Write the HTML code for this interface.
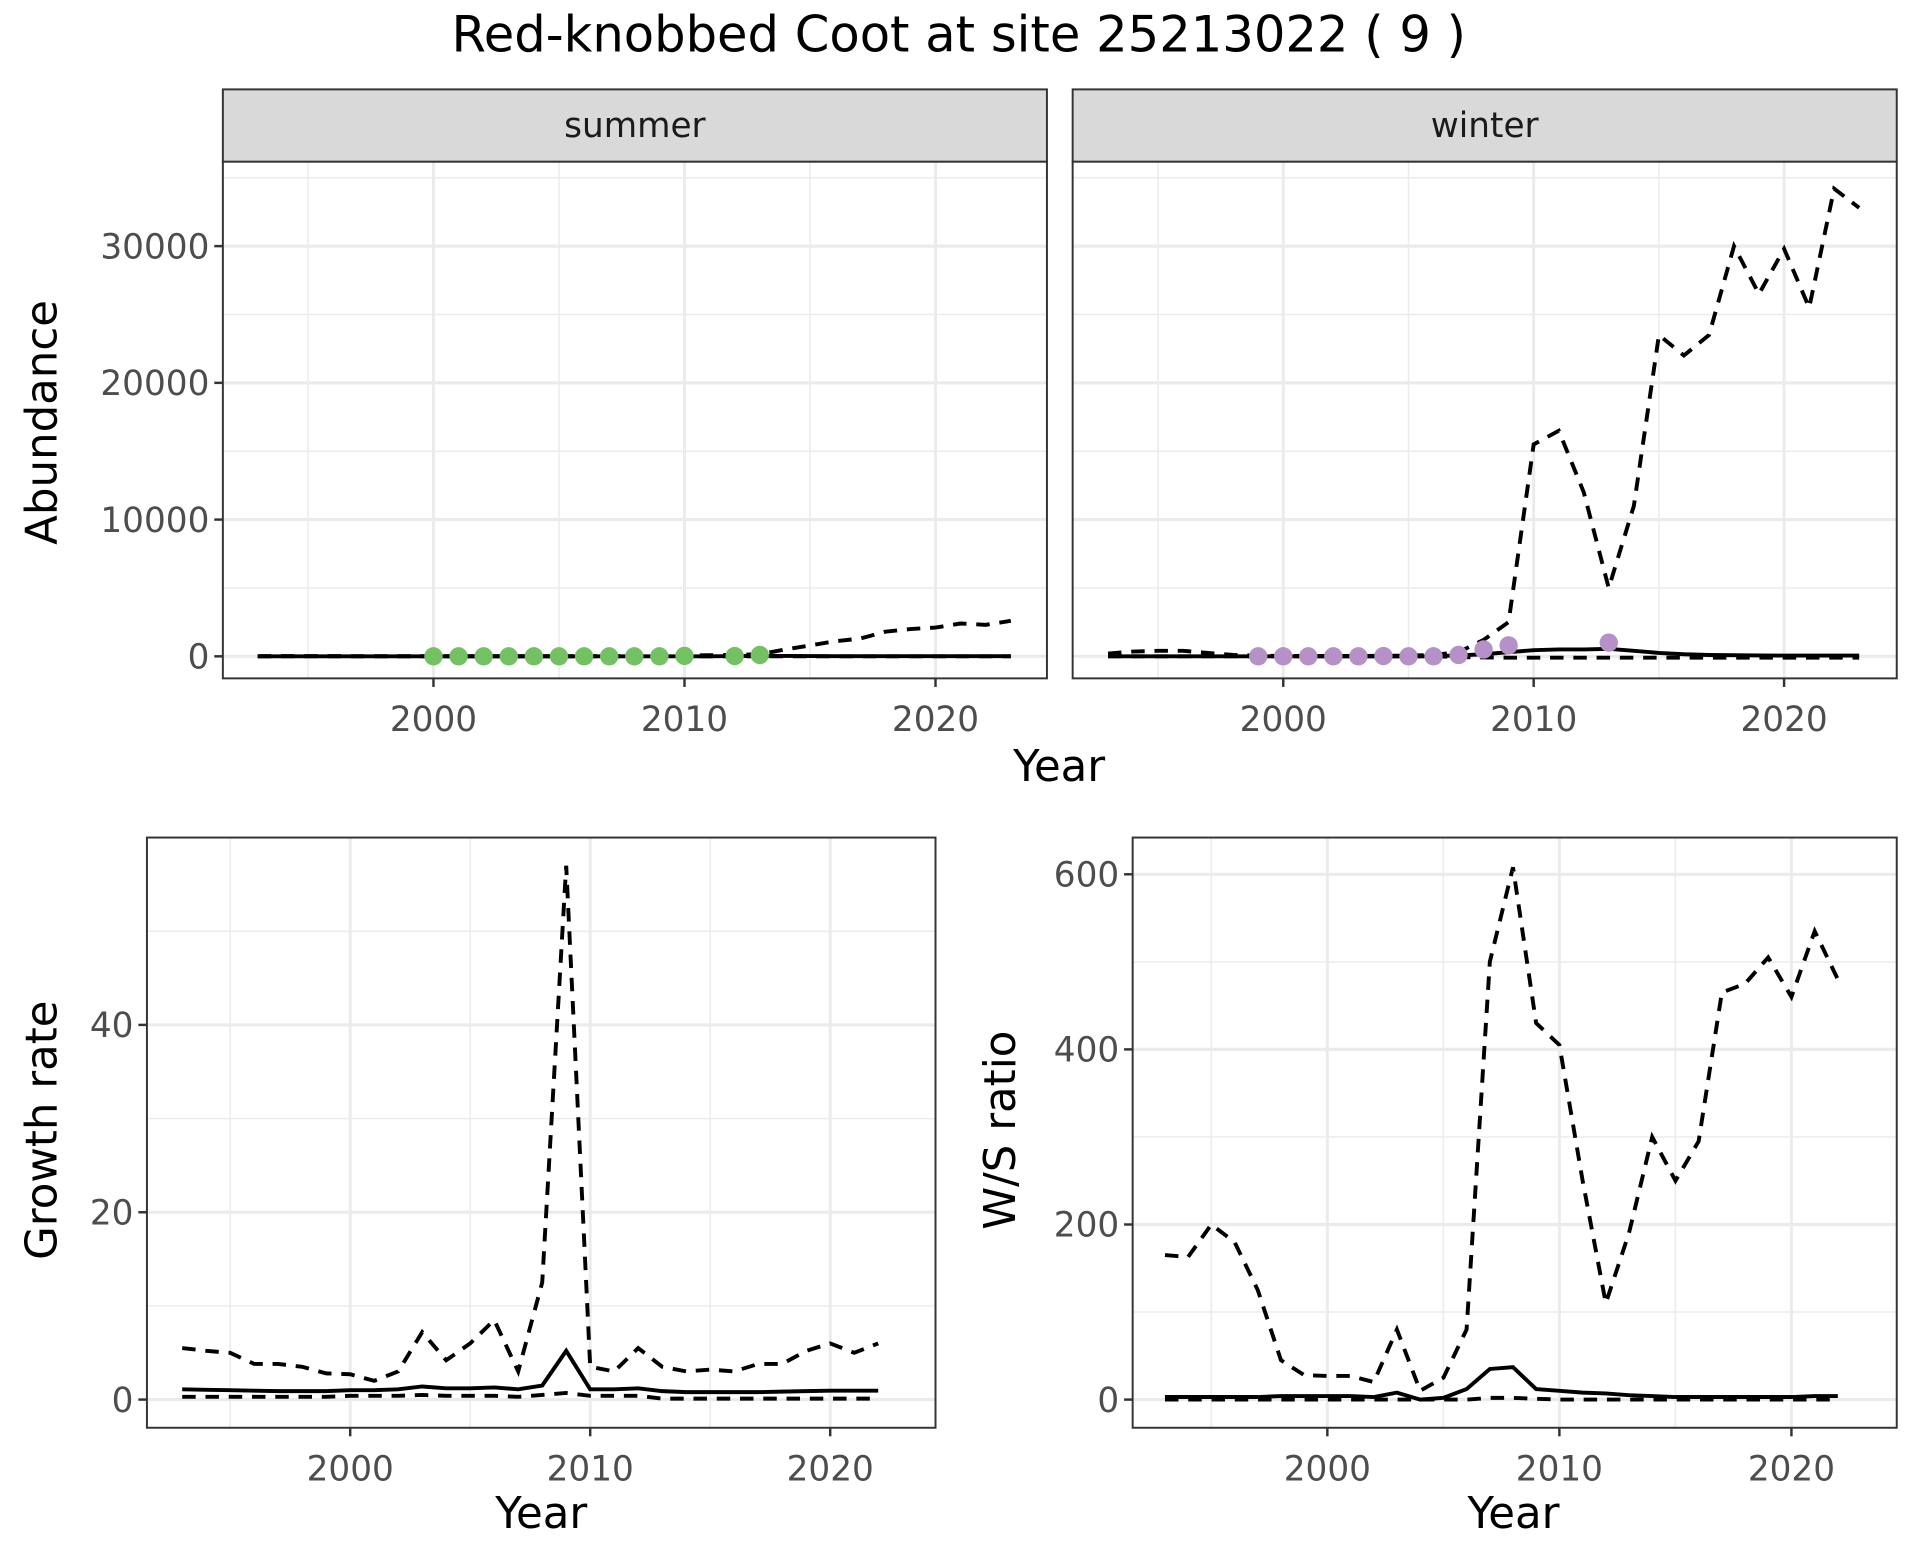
<!DOCTYPE html>
<html><head><meta charset="utf-8"><style>
html,body{margin:0;padding:0;background:#fff}
svg{display:block}
text{font-family:"DejaVu Sans","Liberation Sans",sans-serif}
</style></head><body>
<svg id="chart" width="1920" height="1560" viewBox="0 0 1568 1274" xmlns="http://www.w3.org/2000/svg">
<rect width="1568" height="1274" fill="#fff"/>
<text x="783" y="42" font-size="40.5" text-anchor="middle" fill="#000">Red-knobbed Coot at site 25213022 ( 9 )</text>
</svg>
<script>
// ---- data ----
const yearsA = [1993,1994,1995,1996,1997,1998,1999,2000,2001,2002,2003,2004,2005,2006,2007,2008,2009,2010,2011,2012,2013,2014,2015,2016,2017,2018,2019,2020,2021,2022,2023];
const summerMid = [0,0,0,0,0,0,0,0,0,0,0,0,0,0,0,0,0,0,0,20,30,30,20,10,10,5,5,5,5,5,5];
const summerUpper = [10,20,20,20,10,10,10,10,10,10,10,10,10,10,10,20,30,60,80,100,150,500,800,1100,1300,1800,2000,2100,2400,2300,2600];
const summerLower = [0,0,0,0,0,0,0,0,0,0,0,0,0,0,0,0,0,0,0,0,0,0,0,0,0,0,0,0,0,0,0];
const summerObsYears = [2000,2001,2002,2003,2004,2005,2006,2007,2008,2009,2010,2012,2013];
const summerObs = [0,0,0,0,0,0,0,0,0,0,30,20,100];
const winterMid = [0,0,0,0,0,0,0,0,0,0,0,0,0,10,60,150,300,450,500,500,550,400,250,150,100,80,60,50,50,50,50];
const winterUpper = [200,350,400,400,250,100,50,30,30,30,30,40,50,100,300,1200,2500,15500,16500,12000,5000,11000,23500,22000,23500,30000,26500,29800,25500,34200,32800];
const winterLower = [0,0,0,0,0,0,0,0,0,0,0,0,0,0,-50,-80,-100,-100,-100,-100,-100,-100,-100,-100,-100,-100,-100,-100,-100,-100,-100];
const winterObsYears = [1999,2000,2001,2002,2003,2004,2005,2006,2007,2008,2009,2013];
const winterObs = [0,0,0,0,0,20,0,0,100,500,800,1000];
const yearsB = [1993,1994,1995,1996,1997,1998,1999,2000,2001,2002,2003,2004,2005,2006,2007,2008,2009,2010,2011,2012,2013,2014,2015,2016,2017,2018,2019,2020,2021,2022];
const growthUpper = [5.5,5.2,5.0,3.8,3.8,3.5,2.8,2.7,2.0,3.0,7.2,4.2,6.0,8.5,3.0,12.5,57,3.5,3.0,5.5,3.5,3.0,3.2,3.0,3.8,3.8,5.2,6.0,5.0,6.0];
const growthMid = [1.1,1.05,1.0,0.95,0.9,0.9,0.9,1.0,1.0,1.1,1.4,1.2,1.2,1.3,1.1,1.5,5.2,1.1,1.1,1.2,0.9,0.8,0.8,0.8,0.8,0.85,0.9,0.95,0.95,0.95];
const growthLower = [0.3,0.3,0.3,0.3,0.3,0.3,0.3,0.4,0.4,0.4,0.5,0.4,0.4,0.4,0.3,0.5,0.7,0.4,0.4,0.4,0.1,0.1,0.1,0.1,0.1,0.1,0.1,0.1,0.1,0.1];
const ratioUpper = [165,163,200,180,125,45,28,27,27,20,80,10,25,80,500,608,430,405,250,110,190,300,250,295,465,475,505,460,535,480];
const ratioMid = [3,3,3,3,3,4,4,4,4,3,8,0,2,12,35,37,12,10,8,7,5,4,3,3,3,3,3,3,4,4];
const ratioLower = [0,0,0,0,0,0,0,0,0,0,0,0,0,0,2,2,1,0,0,0,0,0,0,0,0,0,0,0,0,0];
const abTicks = [0,10000,20000,30000];
const abMinor = [5000,15000,25000,35000];
const growthTicks = [0,20,40];
const growthMinor = [10,30,50];
const ratioTicks = [0,200,400,600];
const ratioMinor = [100,300,500];
const xTicks = [2000,2010,2020];
const xMinor = [1995,2005,2015];

const NS = 'http://www.w3.org/2000/svg';
const svg = document.getElementById('chart');
function mk(tag, attrs, parent, txt){const e=document.createElementNS(NS,tag);for(const k in attrs)e.setAttribute(k,attrs[k]);if(txt!==undefined)e.textContent=txt;(parent||svg).appendChild(e);return e;}
function scale(d0,d1,r0,r1){return v=>r0+(v-d0)*(r1-r0)/(d1-d0);}

function panel(name, box, xs, ys, opt){
  const g = mk('g',{},svg);
  
  
  const [x0,y0,x1,y1]=box;
  xMinor.forEach(v=>{const l=mk('line',{x1:xs(v),x2:xs(v),y1:y0,y2:y1,stroke:'#ebebeb','stroke-width':1.2},g);});
  opt.minor.forEach(v=>{const y=ys(v);if(y<y0||y>y1)return;const l=mk('line',{x1:x0,x2:x1,y1:y,y2:y,stroke:'#ebebeb','stroke-width':1.2},g);});
  xTicks.forEach(v=>{const l=mk('line',{x1:xs(v),x2:xs(v),y1:y0,y2:y1,stroke:'#ebebeb','stroke-width':2.4},g);});
  opt.ticks.forEach(v=>{const y=ys(v);const l=mk('line',{x1:x0,x2:x1,y1:y,y2:y,stroke:'#ebebeb','stroke-width':2.6},g);});
  function line(years, vals, dashed, nm){
    const p=mk('path',{d:years.map((yr,i)=>(i?'L':'M')+xs(yr).toFixed(1)+','+ys(vals[i]).toFixed(1)).join(''),fill:'none',stroke:'#000','stroke-width':3.2,'stroke-dasharray':dashed?'11,8':'none'},g);
    
    
  }
  opt.series.forEach(s=>line(s[0],s[1],s[2],s[3]));
  if(opt.points){opt.points[1].forEach((v,i)=>{const c=mk('circle',{cx:xs(opt.points[0][i]),cy:ys(v),r:7.5,fill:opt.points[2]},g);});}
  const b=mk('rect',{x:x0,y:y0,width:x1-x0,height:y1-y0,fill:'none',stroke:'#333','stroke-width':1.6},g);
  
  xTicks.forEach(v=>{
    mk('line',{x1:xs(v),x2:xs(v),y1:y1,y2:y1+7,stroke:'#333','stroke-width':2},g);
    const t=mk('text',{x:xs(v),y:y1+43,'font-size':28,'text-anchor':'middle',fill:'#4d4d4d'},g,String(v));
    
  });
  if(opt.yLabels){opt.ticks.forEach(v=>{
    const y=ys(v);
    mk('line',{x1:x0-7,x2:x0,y1:y,y2:y,stroke:'#333','stroke-width':2},g);
    const t=mk('text',{x:x0-11,y:y+10,'font-size':28,'text-anchor':'end',fill:'#4d4d4d'},g,String(v));
    
  });}
  if(opt.strip){
    const s=mk('rect',{x:x0,y:73,width:x1-x0,height:59,fill:'#d9d9d9',stroke:'#333','stroke-width':1.6},g);
    
    const t=mk('text',{x:(x0+x1)/2,y:112,'font-size':28,'text-anchor':'middle',fill:'#1a1a1a'},g,opt.strip);
    
  }
}
// top panels
const abY = scale(0,30000,536,201);
const sX = scale(2000,2020,354,764), wX = scale(2000,2020,1048,1457);
panel('summer',[182,132,855,554],sX,abY,{ticks:abTicks,minor:abMinor,yLabels:true,strip:'summer',
  series:[[yearsA,summerUpper,true,'summer-upper-line'],[yearsA,summerLower,true,'summer-lower-line'],[yearsA,summerMid,false,'summer-fit-line']],
  points:[summerObsYears,summerObs,'#74c164']});
panel('winter',[876,132,1549,554],wX,abY,{ticks:abTicks,minor:abMinor,yLabels:false,strip:'winter',
  series:[[yearsA,winterUpper,true,'winter-upper-line'],[yearsA,winterLower,true,'winter-lower-line'],[yearsA,winterMid,false,'winter-fit-line']],
  points:[winterObsYears,winterObs,'#b591c8']});
panel('growth',[120,684,764,1166],scale(2000,2020,286,678),scale(0,40,1143,837),{ticks:growthTicks,minor:growthMinor,yLabels:true,
  series:[[yearsB,growthUpper,true,'growth-upper-line'],[yearsB,growthLower,true,'growth-lower-line'],[yearsB,growthMid,false,'growth-fit-line']]});
panel('ratio',[925,684,1549,1166],scale(2000,2020,1084,1463),scale(0,600,1143,714),{ticks:ratioTicks,minor:ratioMinor,yLabels:true,
  series:[[yearsB,ratioUpper,true,'ratio-upper-line'],[yearsB,ratioLower,true,'ratio-lower-line'],[yearsB,ratioMid,false,'ratio-fit-line']]});
function label(txt,x,y,rot,nm){const t=mk('text',{x:x,y:y,'font-size':35.5,'text-anchor':'middle',fill:'#000',transform:rot?`rotate(-90 ${x} ${y})`:''},svg,txt);}
label('Year',865,638,false,'top-x-axis-title');
label('Abundance',46,345,true,'abundance-axis-title');
label('Year',442,1248,false,'growth-x-axis-title');
label('Growth rate',46,923,true,'growth-axis-title');
label('Year',1236,1248,false,'ratio-x-axis-title');
label('W/S ratio',829,923,true,'ratio-axis-title');
</script>
</body></html>
